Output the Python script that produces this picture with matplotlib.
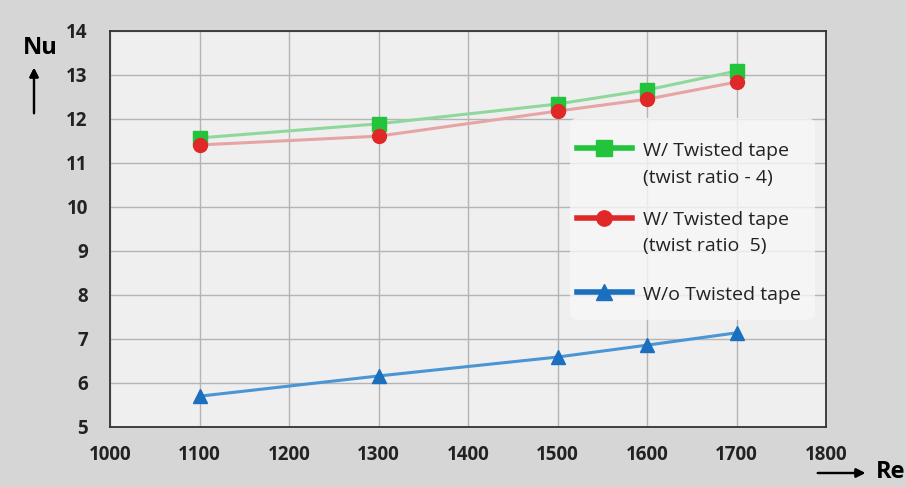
import matplotlib.pyplot as plt
from matplotlib.lines import Line2D
from matplotlib.patches import FancyBboxPatch

plt.rcParams['font.family'] = ['Open Sans', 'DejaVu Sans']

re_vals = [1100, 1300, 1500, 1600, 1700]
nu_tr4 = [11.57, 11.89, 12.34, 12.66, 13.09]
nu_tr5 = [11.41, 11.61, 12.18, 12.45, 12.84]
nu_plain = [5.70, 6.16, 6.59, 6.86, 7.14]

x_ticks = [1000, 1100, 1200, 1300, 1400, 1500, 1600, 1700, 1800]
y_ticks = [5, 6, 7, 8, 9, 10, 11, 12, 13, 14]

labels = [["W/ Twisted tape", "(twist ratio - 4)"],
          ["W/ Twisted tape", "(twist ratio  5)"],
          ["W/o Twisted tape"]]

W, H = 906, 487
fig = plt.figure(figsize=(W / 100, H / 100), dpi=100, facecolor='#d6d6d6')
ax = fig.add_axes([110 / W, 1 - 427 / H, 716 / W, 396 / H])
ax.set_facecolor('#efefef')

# lines (lighter) then markers
ax.plot(re_vals, nu_tr4, color='#8fd89c', lw=2.2, zorder=2)
ax.plot(re_vals, nu_tr5, color='#e6a4a4', lw=2.2, zorder=2)
ax.plot(re_vals, nu_plain, color='#4a95d4', lw=2.2, zorder=2)
ax.plot(re_vals, nu_tr4, ls='none', marker='s', ms=10, color='#22c43c', zorder=3)
ax.plot(re_vals, nu_tr5, ls='none', marker='o', ms=10, color='#e02828', zorder=4)
ax.plot(re_vals, nu_plain, ls='none', marker='^', ms=10, color='#1a6fbf', zorder=3)

ax.set_xlim(1000, 1800)
ax.set_ylim(5, 14)
ax.set_xticks(x_ticks)
ax.set_yticks(y_ticks)
ax.grid(True, color='#b4b4b4', lw=1)
ax.set_axisbelow(True)
for s in ax.spines.values():
    s.set_color('#333333')
    s.set_linewidth(1.3)
ax.tick_params(length=0, labelsize=13.5)
ax.tick_params(axis='y', pad=16)
ax.tick_params(axis='x', pad=13)
for t in ax.get_xticklabels() + ax.get_yticklabels():
    t.set_fontweight('bold')
    t.set_color('#222222')

# legend, drawn by hand so the handle sits on the first text line
def fx(px):
    return px / W

def fy(py):
    return 1 - py / H

box = FancyBboxPatch((fx(570), fy(320)), fx(815) - fx(570), fy(118) - fy(320),
                     boxstyle='round,pad=0,rounding_size=0.012',
                     transform=fig.transFigure, facecolor='#f7f7f7',
                     edgecolor='none', alpha=0.8, zorder=5)
fig.add_artist(box)

handle_styles = [('#22c43c', 's'), ('#e02828', 'o'), ('#1a6fbf', '^')]
handle_y = [148, 218, 292]
text_y = [[151, 178], [220, 246], [295]]
for (col, mk), hy, lines, ty in zip(handle_styles, handle_y, labels, text_y):
    fig.add_artist(Line2D([fx(577), fx(632)], [fy(hy), fy(hy)], color=col, lw=4,
                          transform=fig.transFigure, zorder=6))
    fig.add_artist(Line2D([fx(604)], [fy(hy)], color=col, marker=mk, ms=11,
                          transform=fig.transFigure, zorder=7))
    for line, y in zip(lines, ty):
        fig.text(fx(643), fy(y), line, fontsize=14, color='#222222',
                 ha='left', va='center', zorder=7)

# axis names with arrows
fig.text(fx(40), fy(48), 'Nu', fontsize=17, fontweight='bold', ha='center', va='center')
fig.add_artist(plt.annotate('', xy=(fx(34), fy(65)), xytext=(fx(34), fy(116)),
                            xycoords='figure fraction',
                            arrowprops=dict(arrowstyle='-|>', color='black', lw=1.6,
                                            mutation_scale=13)))
fig.text(fx(891), fy(472), 'Re', fontsize=17, fontweight='bold', ha='center', va='center')
fig.add_artist(plt.annotate('', xy=(fx(868), fy(473)), xytext=(fx(815), fy(473)),
                            xycoords='figure fraction',
                            arrowprops=dict(arrowstyle='-|>', color='black', lw=1.6,
                                            mutation_scale=13)))

fig.savefig('out.png', dpi=100, facecolor=fig.get_facecolor())
